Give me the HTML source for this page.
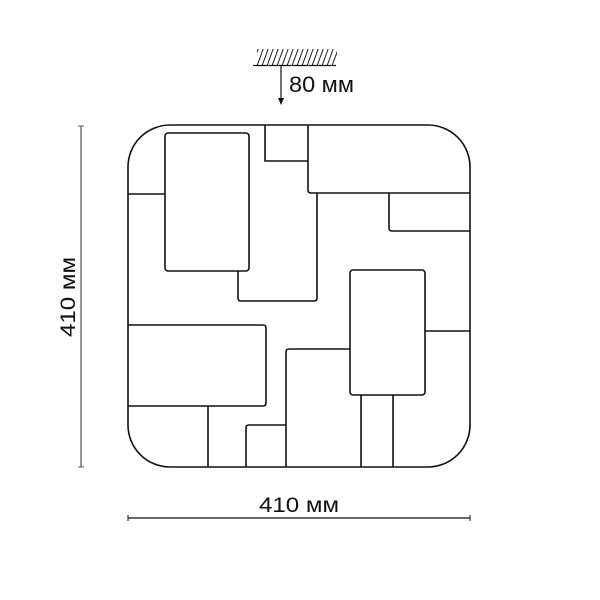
<!DOCTYPE html>
<html><head><meta charset="utf-8"><style>
html,body{margin:0;padding:0;background:#fff;}
svg{display:block;}
text{font-family:"Liberation Sans",sans-serif;fill:#111;}
</style></head><body>
<svg width="600" height="600" viewBox="0 0 600 600" xmlns="http://www.w3.org/2000/svg">
<defs>
<pattern id="h" width="5" height="16" patternUnits="userSpaceOnUse" patternTransform="skewX(-20)">
<line x1="1" y1="0" x2="1" y2="16" stroke="#111" stroke-width="1"/>
</pattern>
</defs>
<!-- ceiling -->
<rect x="257" y="49" width="80" height="16" fill="url(#h)"/>
<line x1="253" y1="65.5" x2="336" y2="65.5" stroke="#111" stroke-width="1.2"/>
<line x1="281" y1="65" x2="281" y2="100" stroke="#111" stroke-width="1.2"/>
<polygon points="278,98 284,98 281,105" fill="#111"/>
<text x="289" y="92" font-size="22" textLength="65" lengthAdjust="spacingAndGlyphs">80 мм</text>
<!-- left dim -->
<line x1="81" y1="126" x2="81" y2="467" stroke="#555" stroke-width="1.2"/>
<line x1="78" y1="126" x2="84" y2="126" stroke="#555"/>
<line x1="78" y1="467" x2="84" y2="467" stroke="#555"/>
<text x="-40" y="0" font-size="21" textLength="80" lengthAdjust="spacingAndGlyphs" transform="translate(75,297) rotate(-90)">410 мм</text>
<!-- bottom dim -->
<line x1="128" y1="518" x2="470" y2="518" stroke="#111" stroke-width="1.2"/>
<line x1="128" y1="515" x2="128" y2="521" stroke="#111"/>
<line x1="470" y1="515" x2="470" y2="521" stroke="#111"/>
<text x="259" y="512" font-size="21" textLength="80" lengthAdjust="spacingAndGlyphs">410 мм</text>
<g fill="none" stroke="#111" stroke-width="1.6">
<rect x="128" y="125" width="342" height="342" rx="42" ry="42"/>
<rect x="165" y="133" width="84" height="138" rx="3"/>
<path d="M265 125 V161 H308"/>
<path d="M308 125 V190 Q308 193 311 193 H470"/>
<line x1="128" y1="194" x2="165" y2="194"/>
<path d="M389 193 V228 Q389 231 392 231 H470"/>
<path d="M238 271 V298 Q238 301 241 301 H314 Q317 301 317 298 V193"/>
<rect x="350" y="270" width="75" height="125" rx="3"/>
<line x1="425" y1="331" x2="470" y2="331"/>
<path d="M128 325 H263 Q266 325 266 328 V403 Q266 406 263 406 H128"/>
<line x1="208" y1="406" x2="208" y2="467"/>
<path d="M286 467 V352 Q286 349 289 349 H350"/>
<path d="M246 467 V428 Q246 425 249 425 H286"/>
<line x1="361" y1="395" x2="361" y2="467"/>
<line x1="393" y1="395" x2="393" y2="467"/>
</g>
</svg>
</body></html>
